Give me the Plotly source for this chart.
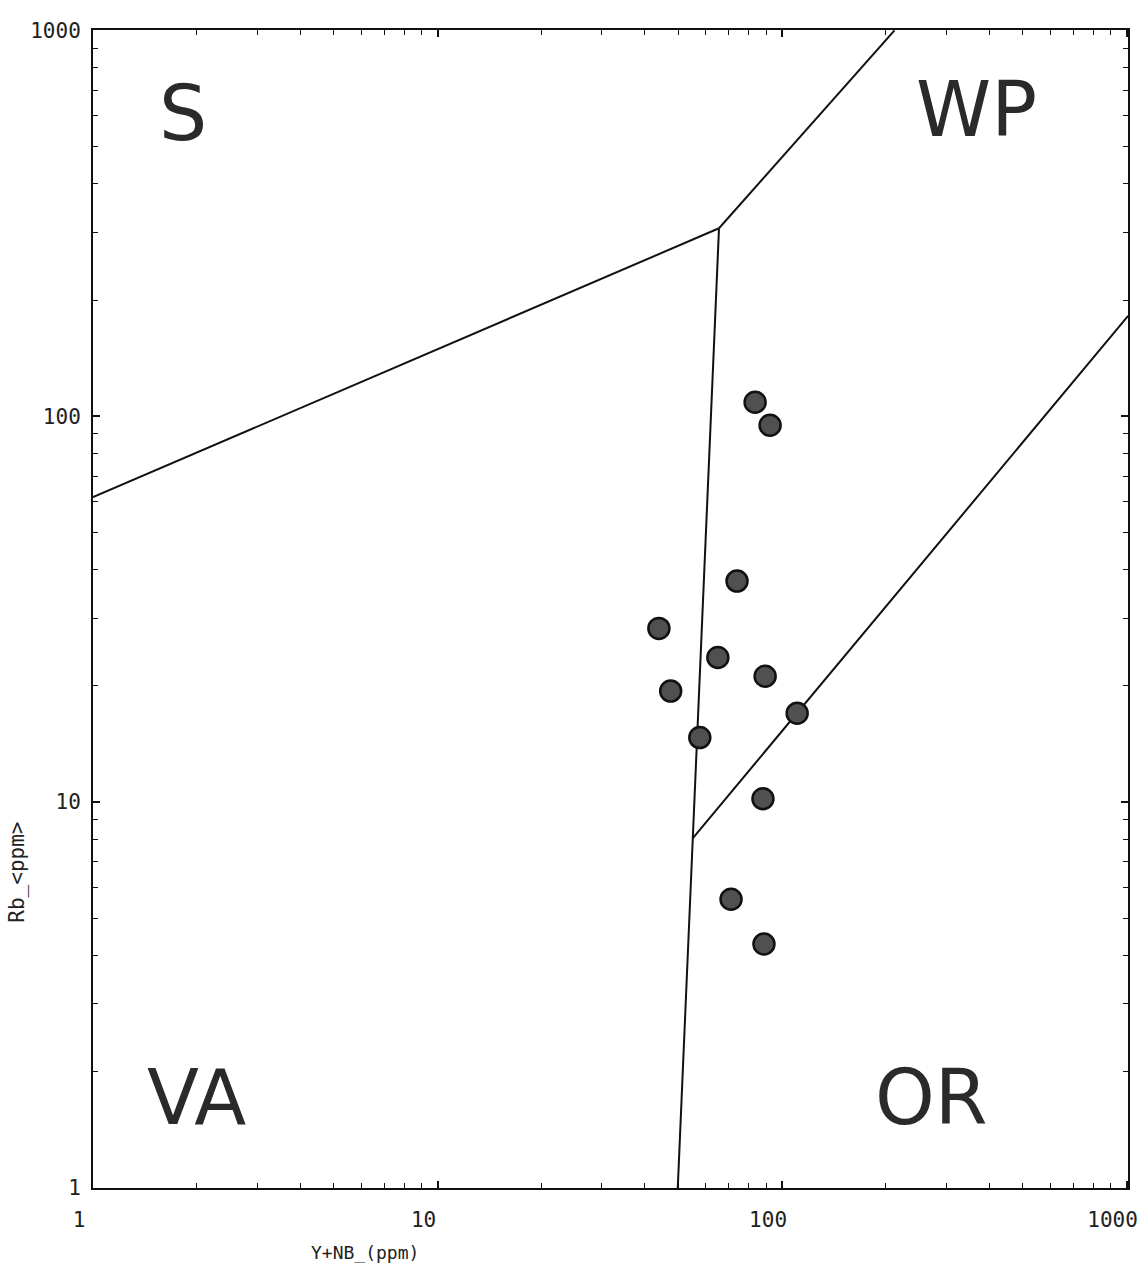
import plotly.graph_objects as go

# ---- data ----
yn_ppm = [83.5, 92.3, 74.0, 43.9, 65.1, 89.3, 47.5, 110.6, 57.7, 88.0, 71.1, 88.6]
rb_ppm = [108.7, 94.8, 37.4, 28.2, 23.7, 21.2, 19.4, 17.0, 14.7, 10.2, 5.6, 4.29]

# field boundaries (x = Y+Nb, y = Rb)
syn_va_x = [1, 65.6]
syn_va_y = [61.7, 307]
syn_wp_x = [65.6, 212]
syn_wp_y = [307, 1000]
va_or_x = [65.6, 49.8]
va_or_y = [307, 1]
wp_or_x = [55.1, 1010]
wp_or_y = [8.07, 182]

field_labels = ["S", "WP", "VA", "OR"]
field_lx = [0.087, 0.854, 0.100, 0.810]
field_ly = [0.928, 0.931, 0.078, 0.078]

tick_vals = [1, 10, 100, 1000]
tick_text = ["1", "10", "100", "1000"]
minor_vals = [m * d for d in (1, 10, 100) for m in range(2, 10)]

fig = go.Figure()
for xs, ys in [(syn_va_x, syn_va_y), (syn_wp_x, syn_wp_y), (va_or_x, va_or_y), (wp_or_x, wp_or_y)]:
    fig.add_trace(go.Scatter(x=xs, y=ys, mode="lines",
                             line=dict(color="#111111", width=2),
                             showlegend=False, hoverinfo="skip", cliponaxis=True))

fig.add_trace(go.Scatter(x=yn_ppm, y=rb_ppm, mode="markers",
                         marker=dict(size=21, color="#505050",
                                     line=dict(color="#111111", width=2.5)),
                         showlegend=False))

for t, lx, ly in zip(field_labels, field_lx, field_ly):
    fig.add_annotation(text=t, x=lx, y=ly, xref="paper", yref="paper",
                       showarrow=False, xanchor="center", yanchor="middle",
                       font=dict(family="DejaVu Sans", size=76, color="#2a2a2a"))

fig.add_annotation(text="Y+NB_(ppm)", x=0.263, y=-0.056, xref="paper", yref="paper",
                   showarrow=False, xanchor="center", yanchor="middle",
                   font=dict(family="DejaVu Sans Mono", size=18, color="#222222"))
fig.add_annotation(text="Rb_&lt;ppm&gt;", x=-0.0736, y=0.273, xref="paper", yref="paper",
                   showarrow=False, xanchor="center", yanchor="middle", textangle=-90,
                   font=dict(family="DejaVu Sans Mono", size=21, color="#222222"))

axis_common = dict(
    type="log", showgrid=False, zeroline=False, automargin=False,
    showline=True, linecolor="#111111", linewidth=2, mirror="allticks",
    ticks="inside", ticklen=7, tickwidth=1.5, tickcolor="#111111",
    tickvals=tick_vals, ticktext=tick_text, ticklabeloverflow="allow",
    tickfont=dict(family="DejaVu Sans Mono", size=21, color="#222222"),
    minor=dict(tickvals=minor_vals, ticks="inside", ticklen=5, tickwidth=1.2,
               tickcolor="#111111", showgrid=False),
)
fig.update_xaxes(range=[0, 3.004], ticklabelshift=-14, ticklabelstandoff=12, **axis_common)
fig.update_yaxes(range=[0, 3.001], ticklabelstandoff=6, **axis_common)

fig.update_layout(
    width=1142, height=1273,
    margin=dict(l=93, r=14, t=30, b=85),
    paper_bgcolor="white", plot_bgcolor="white",
    showlegend=False,
)

fig.write_html("out.html")
